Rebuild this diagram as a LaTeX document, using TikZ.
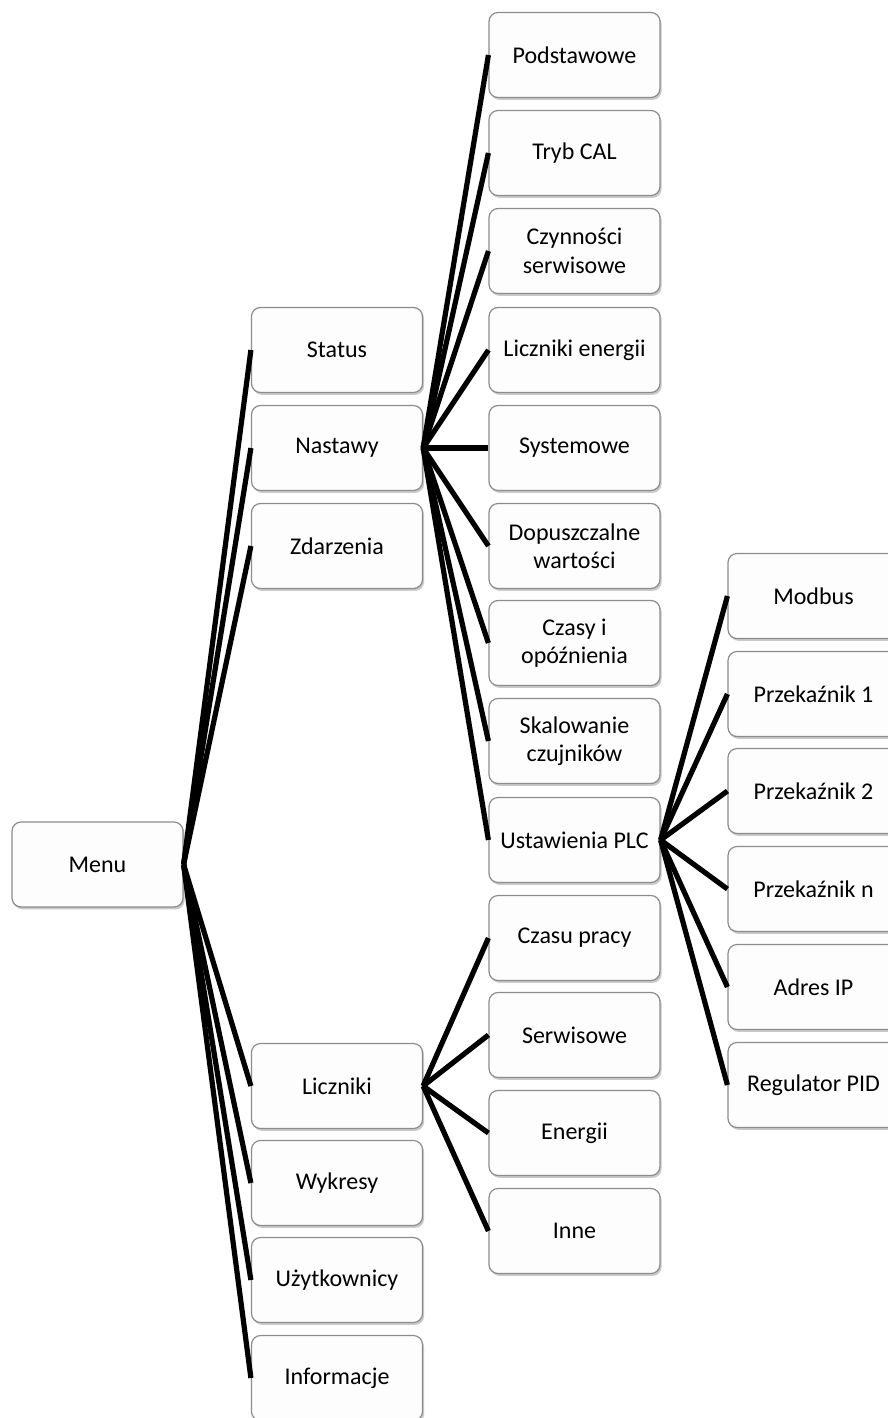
\documentclass[tikz,border=0pt]{standalone}
\usepackage{fontspec}
\setmainfont{Carlito}
\usepackage{tikz}
\usetikzlibrary{shadows}
\definecolor{boxline}{RGB}{140,140,140}
\definecolor{boxfill}{RGB}{253,253,253}
\tikzset{
  menubox/.style={draw=boxline, fill=boxfill, rounded corners=4.5pt, line width=0.6pt,
    minimum width=85.5pt, minimum height=42.5pt, inner sep=0pt, align=center,
    font=\fontsize{12}{14.2}\selectfont,
    drop shadow={shadow xshift=0.8pt, shadow yshift=-1.2pt, opacity=0.35, fill=black!60}},
  link/.style={line width=2.6pt, black}
}
\newcommand{\menubx}[4]{\node[menubox] (#1) at ( #2 , #3 ) {#4};}
\newcommand{\link}[2]{\draw[link] (#1.east) -- (#2.west);}
\begin{document}
\begin{tikzpicture}[x=0.5pt, y=-0.5pt]
        \useasboundingbox (0,0) rectangle (888,1418);
        \begin{scope}
        \clip (0,0) rectangle (888,1418);

        \menubx{menu}{97.5}{864.5}{Menu}

        \menubx{status}{337}{350}{Status}
        \menubx{nastawy}{337}{448}{Nastawy}
        \menubx{zdarzenia}{337}{546}{Zdarzenia}
        \menubx{liczniki}{337}{1086}{Liczniki}
        \menubx{wykresy}{337}{1183}{Wykresy}
        \menubx{uzytk}{337}{1280}{Użytkownicy}
        \menubx{info}{337}{1378}{Informacje}

        \menubx{podst}{574.5}{55}{Podstawowe}
        \menubx{tryb}{574.5}{153}{Tryb CAL}
        \menubx{czynn}{574.5}{251}{Czynności\\serwisowe}
        \menubx{lenerg}{574.5}{350}{Liczniki energii}
        \menubx{system}{574.5}{448}{Systemowe}
        \menubx{dopusz}{574.5}{546}{Dopuszczalne\\wartości}
        \menubx{czasy}{574.5}{643}{Czasy i\\opóźnienia}
        \menubx{skal}{574.5}{741}{Skalowanie\\czujników}
        \menubx{plc}{574.5}{840}{Ustawienia PLC}

        \menubx{czpracy}{574.5}{938}{Czasu pracy}
        \menubx{serw}{574.5}{1035}{Serwisowe}
        \menubx{energii}{574.5}{1133}{Energii}
        \menubx{inne}{574.5}{1231}{Inne}

        \menubx{modbus}{813.5}{596}{Modbus}
        \menubx{prz1}{813.5}{694}{Przekaźnik 1}
        \menubx{prz2}{813.5}{791}{Przekaźnik 2}
        \menubx{przn}{813.5}{889}{Przekaźnik n}
        \menubx{adres}{813.5}{987}{Adres IP}
        \menubx{pid}{813.5}{1085}{Regulator PID}

        % connectors
        \foreach \c in {status,nastawy,zdarzenia,liczniki,wykresy,uzytk,info}
          {\link{menu}{\c}}
        \foreach \c in {podst,tryb,czynn,lenerg,system,dopusz,czasy,skal,plc}
          {\link{nastawy}{\c}}
        \foreach \c in {czpracy,serw,energii,inne}
          {\link{liczniki}{\c}}
        \foreach \c in {modbus,prz1,prz2,przn,adres,pid}
          {\link{plc}{\c}}
        \end{scope}
    \end{tikzpicture}
\end{document}
